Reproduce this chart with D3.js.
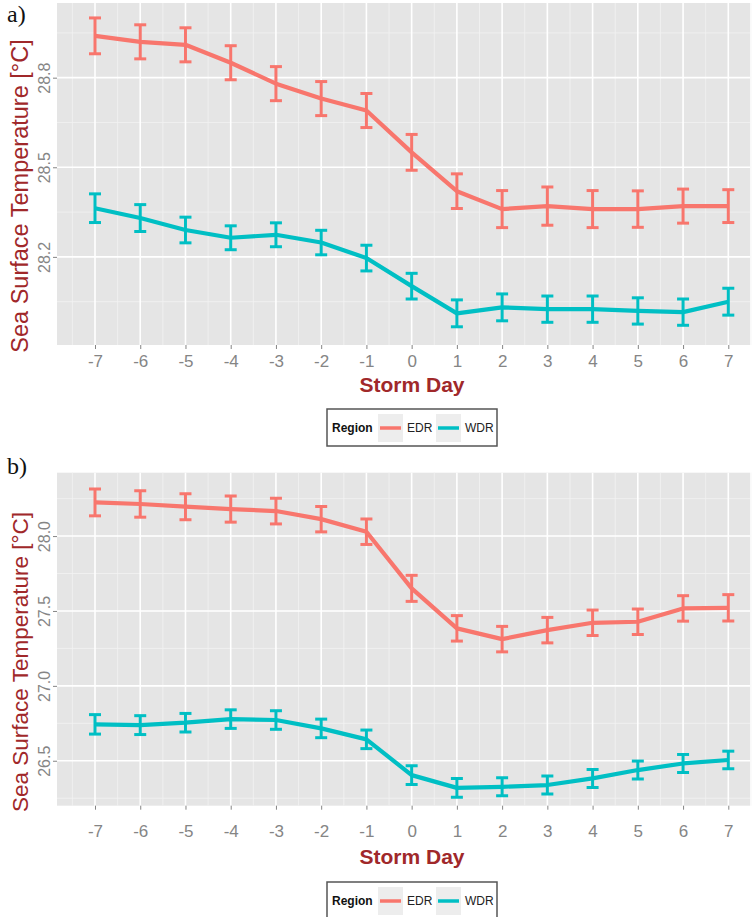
<!DOCTYPE html>
<html>
<head>
<meta charset="utf-8">
<script src="https://cdn.jsdelivr.net/npm/d3@7"></script>
<style>
  body { margin: 0; background: #fff; }
  svg { display: block; font-family: "Liberation Sans", Arial, sans-serif; }
</style>
</head>
<body>
<div id="chart"></div>
<script>
// storm day axis
const days = [-7, -6, -5, -4, -3, -2, -1, 0, 1, 2, 3, 4, 5, 6, 7]
const regions = ['EDR', 'WDR']

// panel a) values (mean SST and error bar half-height)
const edrA = [28.94, 28.92, 28.91, 28.85, 28.78, 28.73, 28.69, 28.55, 28.42, 28.36, 28.37, 28.36, 28.36, 28.37, 28.37]
const edrAErr = [0.060, 0.057, 0.057, 0.057, 0.057, 0.057, 0.057, 0.060, 0.058, 0.062, 0.064, 0.062, 0.061, 0.057, 0.055]
const wdrA = [28.363, 28.33, 28.29, 28.264, 28.274, 28.248, 28.196, 28.102, 28.011, 28.031, 28.025, 28.025, 28.019, 28.015, 28.05]
const wdrAErr = [0.048, 0.045, 0.043, 0.040, 0.040, 0.041, 0.043, 0.043, 0.045, 0.045, 0.044, 0.044, 0.044, 0.044, 0.045]
const yTicksA = [28.2, 28.5, 28.8]
const yMinorA = [28.05, 28.35, 28.65, 28.95]

// panel b) values
const edrB = [28.225, 28.214, 28.196, 28.18, 28.167, 28.113, 28.029, 27.651, 27.384, 27.312, 27.372, 27.421, 27.428, 27.517, 27.521]
const edrBErr = [0.090, 0.088, 0.087, 0.087, 0.086, 0.085, 0.085, 0.087, 0.085, 0.085, 0.085, 0.085, 0.085, 0.085, 0.088]
const wdrB = [26.743, 26.738, 26.754, 26.778, 26.772, 26.716, 26.643, 26.404, 26.319, 26.326, 26.338, 26.382, 26.438, 26.482, 26.505]
const wdrBErr = [0.065, 0.063, 0.062, 0.062, 0.062, 0.062, 0.062, 0.062, 0.062, 0.060, 0.060, 0.060, 0.060, 0.060, 0.059]
const yTicksB = [26.5, 27.0, 27.5, 28.0]
const yMinorB = [26.25, 26.75, 27.25, 27.75, 28.25]

const colors = { EDR: '#F8766D', WDR: '#00BFC4' }
const titleColor = '#a0282a'
const tickColor = '#858585'

const width = 755
const height = 917

const svg = d3.select('#chart').append('svg')
  .attr('width', width)
  .attr('height', height)

const x = d3.scaleLinear().domain([-7, 7]).range([95, 728.3])
const xMinor = days.map(d => d - 0.5).concat([7.5])

const drawPanel = (cfg) => {
  const g = svg.append('g')
  const left = 57
  const right = 750

  const y = d3.scaleLinear().domain(cfg.yDomain).range([cfg.bottom, cfg.top])

  g.append('rect')
    .attr('x', left)
    .attr('y', cfg.top)
    .attr('width', right - left)
    .attr('height', cfg.bottom - cfg.top)
    .attr('fill', '#E5E5E5')

  // minor grid
  g.selectAll('.ymin').data(cfg.yMinor).enter().append('line')
    .attr('x1', left).attr('x2', right)
    .attr('y1', d => y(d)).attr('y2', d => y(d))
    .style('stroke', '#F2F2F2').style('stroke-width', 0.8)
  g.selectAll('.xmin').data(xMinor).enter().append('line')
    .attr('x1', d => x(d)).attr('x2', d => x(d))
    .attr('y1', cfg.top).attr('y2', cfg.bottom)
    .style('stroke', '#F2F2F2').style('stroke-width', 0.8)

  // major grid
  g.selectAll('.ymaj').data(cfg.yTicks).enter().append('line')
    .attr('x1', left).attr('x2', right)
    .attr('y1', d => y(d)).attr('y2', d => y(d))
    .style('stroke', '#fff').style('stroke-width', 1.6)
  g.selectAll('.xmaj').data(days).enter().append('line')
    .attr('x1', d => x(d)).attr('x2', d => x(d))
    .attr('y1', cfg.top).attr('y2', cfg.bottom)
    .style('stroke', '#fff').style('stroke-width', 1.6)

  // axes
  const yAxis = d3.axisLeft(y).tickValues(cfg.yTicks).tickSize(4).tickFormat(d3.format('.1f'))
  const ya = g.append('g').attr('transform', `translate(${left},0)`).call(yAxis)
  ya.select('.domain').remove()
  ya.selectAll('.tick line').style('stroke', tickColor)
  ya.selectAll('.tick text')
    .attr('x', null).attr('dy', null)
    .attr('transform', 'translate(-7,0) rotate(-90)')
    .attr('text-anchor', 'middle')
    .style('font-size', '16px')
    .style('fill', tickColor)

  // plain hyphen minus like the original, not the unicode minus
  const xAxis = d3.axisBottom(x).tickValues(days).tickSize(4).tickFormat(d => String(d))
  const xa = g.append('g').attr('transform', `translate(0,${cfg.bottom})`).call(xAxis)
  xa.select('.domain').remove()
  xa.selectAll('.tick line').style('stroke', tickColor)
  xa.selectAll('.tick text')
    .attr('y', cfg.xLabelY - cfg.bottom).attr('dy', null)
    .style('font-size', '17px')
    .style('fill', tickColor)
    .style('font-family', '"Liberation Sans", Arial, sans-serif')

  // series
  const clipId = 'clip' + cfg.label.replace(')', '')
  g.append('clipPath').attr('id', clipId).append('rect')
    .attr('x', left).attr('y', cfg.top)
    .attr('width', right - left).attr('height', cfg.bottom - cfg.top)
  const plot = g.append('g').attr('clip-path', `url(#${clipId})`)

  cfg.series.forEach(s => {
    const pts = days.map((d, i) => ({ day: d, v: s.values[i], e: s.errors[i] }))
    const eb = plot.append('g')
      .style('stroke', colors[s.name])
      .style('stroke-width', 3)
      .style('fill', 'none')
    eb.selectAll('line.v').data(pts).enter().append('line')
      .attr('x1', d => x(d.day)).attr('x2', d => x(d.day))
      .attr('y1', d => y(d.v - d.e)).attr('y2', d => y(d.v + d.e))
    eb.selectAll('line.t').data(pts).enter().append('line')
      .attr('x1', d => x(d.day) - 6).attr('x2', d => x(d.day) + 6)
      .attr('y1', d => y(d.v + d.e)).attr('y2', d => y(d.v + d.e))
    eb.selectAll('line.b').data(pts).enter().append('line')
      .attr('x1', d => x(d.day) - 6).attr('x2', d => x(d.day) + 6)
      .attr('y1', d => y(d.v - d.e)).attr('y2', d => y(d.v - d.e))

    const line = d3.line().x(d => x(d.day)).y(d => y(d.v))
    plot.append('path')
      .datum(pts)
      .attr('d', line)
      .style('fill', 'none')
      .style('stroke', colors[s.name])
      .style('stroke-width', 4.2)
      .style('stroke-linejoin', 'round')
  })

  // titles
  g.append('text')
    .attr('transform', `translate(28,${cfg.yTitleY}) rotate(-90)`)
    .attr('text-anchor', 'middle')
    .style('font-size', cfg.yTitleSize)
    .style('fill', titleColor)
    .text('Sea Surface Temperature [°C]')

  g.append('text')
    .attr('x', 412)
    .attr('y', cfg.xTitleY)
    .attr('text-anchor', 'middle')
    .style('font-size', '21px')
    .style('font-weight', 'bold')
    .style('fill', titleColor)
    .text('Storm Day')

  g.append('text')
    .attr('x', 7)
    .attr('y', cfg.labelY)
    .style('font-family', '"Liberation Serif", "Times New Roman", serif')
    .style('font-size', '24px')
    .style('fill', '#111')
    .text(cfg.label)

  // legend
  const lg = g.append('g').attr('transform', `translate(327,${cfg.legendY})`)
  lg.append('rect')
    .attr('x', 0).attr('y', 0)
    .attr('width', 170).attr('height', 37)
    .style('fill', '#fff')
    .style('stroke', '#555')
    .style('stroke-width', 1.5)
  lg.append('text')
    .attr('x', 5).attr('y', 23)
    .style('font-size', '12px')
    .style('font-weight', 'bold')
    .style('fill', '#111')
    .text('Region')
  const keyX = [51, 109]
  regions.forEach((r, i) => {
    lg.append('rect')
      .attr('x', keyX[i]).attr('y', 5)
      .attr('width', 25).attr('height', 28)
      .style('fill', '#EDEDED')
    lg.append('line')
      .attr('x1', keyX[i] + 2).attr('x2', keyX[i] + 23)
      .attr('y1', 19).attr('y2', 19)
      .style('stroke', colors[r])
      .style('stroke-width', 3.5)
    lg.append('text')
      .attr('x', keyX[i] + 29).attr('y', 23)
      .style('font-size', '12px')
      .style('fill', '#222')
      .text(r)
  })
}

drawPanel({
  label: 'a)',
  labelY: 22,
  top: 3,
  bottom: 345,
  yDomain: [27.905, 29.05],
  yTicks: yTicksA,
  yMinor: yMinorA,
  xLabelY: 367,
  xTitleY: 392,
  yTitleY: 196,
  yTitleSize: '23.5px',
  legendY: 409,
  series: [
    { name: 'EDR', values: edrA, errors: edrAErr },
    { name: 'WDR', values: wdrA, errors: wdrAErr }
  ]
})

drawPanel({
  label: 'b)',
  labelY: 474,
  top: 472.7,
  bottom: 805.7,
  yDomain: [26.2, 28.423],
  yTicks: yTicksB,
  yMinor: yMinorB,
  xLabelY: 837,
  xTitleY: 864,
  yTitleY: 662,
  yTitleSize: '22.5px',
  legendY: 882,
  series: [
    { name: 'EDR', values: edrB, errors: edrBErr },
    { name: 'WDR', values: wdrB, errors: wdrBErr }
  ]
})
</script>
</body>
</html>
